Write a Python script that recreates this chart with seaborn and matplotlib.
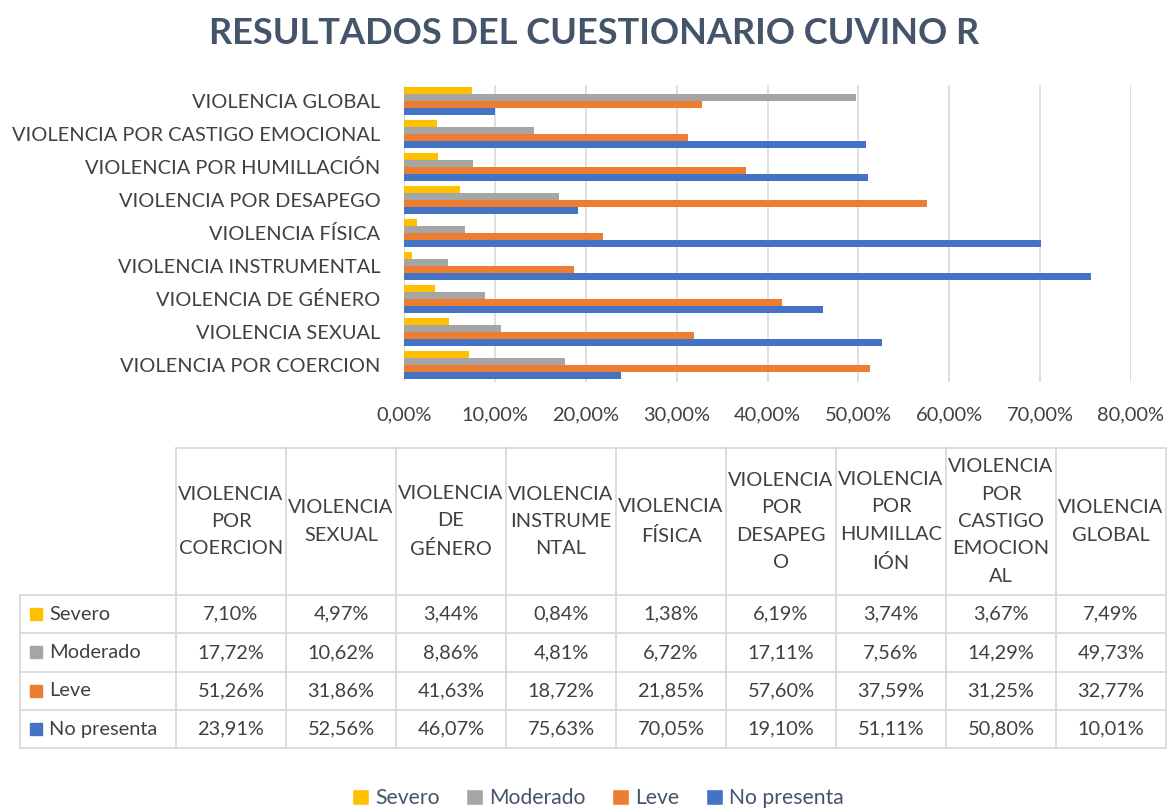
import pandas as pd
import matplotlib
matplotlib.use("Agg")
import matplotlib.pyplot as plt
import seaborn as sns
from matplotlib.patches import Patch, Rectangle

# Data (percent)
categories = ["VIOLENCIA POR COERCION", "VIOLENCIA SEXUAL", "VIOLENCIA DE GÉNERO",
              "VIOLENCIA INSTRUMENTAL", "VIOLENCIA FÍSICA", "VIOLENCIA POR DESAPEGO",
              "VIOLENCIA POR HUMILLACIÓN", "VIOLENCIA POR CASTIGO EMOCIONAL", "VIOLENCIA GLOBAL"]
header_labels = ["VIOLENCIA\nPOR\nCOERCION", "VIOLENCIA\nSEXUAL", "VIOLENCIA\nDE\nGÉNERO",
                 "VIOLENCIA\nINSTRUME\nNTAL", "VIOLENCIA\nFÍSICA", "VIOLENCIA\nPOR\nDESAPEG\nO",
                 "VIOLENCIA\nPOR\nHUMILLAC\nIÓN", "VIOLENCIA\nPOR\nCASTIGO\nEMOCION\nAL",
                 "VIOLENCIA\nGLOBAL"]
levels = ["Severo", "Moderado", "Leve", "No presenta"]
severo = [7.10, 4.97, 3.44, 0.84, 1.38, 6.19, 3.74, 3.67, 7.49]
moderado = [17.72, 10.62, 8.86, 4.81, 6.72, 17.11, 7.56, 14.29, 49.73]
leve = [51.26, 31.86, 41.63, 18.72, 21.85, 57.60, 37.59, 31.25, 32.77]
no_presenta = [23.91, 52.56, 46.07, 75.63, 70.05, 19.10, 51.11, 50.80, 10.01]
x_ticks = [0, 10, 20, 30, 40, 50, 60, 70, 80]

colors = {"Severo": "#FFC000", "Moderado": "#A5A5A5", "Leve": "#ED7D31", "No presenta": "#4472C4"}
text_color = "#404040"
grid_color = "#D9D9D9"

sns.set_style("white")
plt.rcParams["font.family"] = ["Lato", "DejaVu Sans"]

series = {"Severo": severo, "Moderado": moderado, "Leve": leve, "No presenta": no_presenta}
df = pd.concat([pd.DataFrame({"Categoria": categories, "Nivel": lvl, "Valor": vals})
                for lvl, vals in series.items()], ignore_index=True)

fig = plt.figure(figsize=(11.69, 8.09), dpi=100)
W, H = 1169, 809

# Bar chart axes
ax = fig.add_axes([404 / W, 1 - 381.5 / H, (1131 - 404) / W, (381.5 - 84.5) / H])
ax.set_axisbelow(True)
ax.xaxis.grid(True, color=grid_color, lw=1.2)
sns.barplot(data=df, y="Categoria", x="Valor", hue="Nivel", order=categories[::-1],
            hue_order=levels, palette=colors, orient="h", width=0.84, gap=0,
            saturation=1, linewidth=0, legend=False, ax=ax)
ax.set_xlim(0, 80)
ax.set_xticks(x_ticks)
ax.set_xticklabels([f"{v:.2f}%".replace(".", ",") for v in x_ticks])
ax.set_xlabel("")
ax.set_ylabel("")
ax.tick_params(axis="x", length=0, pad=18, labelsize=14.4, labelcolor=text_color)
ax.tick_params(axis="y", length=0, pad=17, labelsize=14.4, labelcolor=text_color)
for s in ax.spines.values():
    s.set_visible(False)
ax.axvline(0, color=grid_color, lw=1.2, zorder=0)

fig.text(594 / W, 1 - 34 / H, "RESULTADOS DEL CUESTIONARIO CUVINO R", ha="center", va="center",
         fontsize=26, fontweight="bold", color="#44546A")

# Data table drawn in pixel coordinates
tab = fig.add_axes([0, 0, 1, 1])
tab.set_xlim(0, W)
tab.set_ylim(H, 0)
tab.axis("off")
tab.patch.set_alpha(0)

col_x0, col_w = 176, 110
row_label_x0 = 20
header_top, header_bot = 448, 595
row_h = 38.3
n_cols = len(categories)
right = col_x0 + n_cols * col_w
row_edges = [header_bot + i * row_h for i in range(len(levels) + 1)]

tab.plot([col_x0, right], [header_top, header_top], color=grid_color, lw=1.3)
for y in row_edges:
    tab.plot([row_label_x0, right], [y, y], color=grid_color, lw=1.3)
tab.plot([row_label_x0, row_label_x0], [header_bot, row_edges[-1]], color=grid_color, lw=1.3)
for i in range(n_cols + 1):
    x = col_x0 + i * col_w
    tab.plot([x, x], [header_top, row_edges[-1]], color=grid_color, lw=1.3)

for i, lab in enumerate(header_labels):
    tab.text(col_x0 + (i + 0.5) * col_w, (header_top + header_bot) / 2, lab,
             ha="center", va="center", fontsize=14.4, color=text_color, linespacing=1.75)

for r, lvl in enumerate(levels):
    yc = row_edges[r] + row_h / 2
    tab.add_patch(Rectangle((30, yc - 6), 12, 12, color=colors[lvl]))
    tab.text(49, yc, lvl, ha="left", va="center", fontsize=14.4, color=text_color)
    for i, v in enumerate(series[lvl]):
        tab.text(col_x0 + (i + 0.5) * col_w, yc, f"{v:.2f}%".replace(".", ","),
                 ha="center", va="center", fontsize=14.4, color=text_color)

handles = [Patch(facecolor=colors[l], label=l) for l in levels]
fig.legend(handles=handles, loc="center", bbox_to_anchor=(598 / W, 1 - 798 / H), ncol=4,
           frameon=False, fontsize=15.2, labelcolor="#44546A", handlelength=0.8,
           handleheight=0.8, handletextpad=0.3, columnspacing=1.25, borderaxespad=0)

fig.savefig("out.png", dpi=100)
